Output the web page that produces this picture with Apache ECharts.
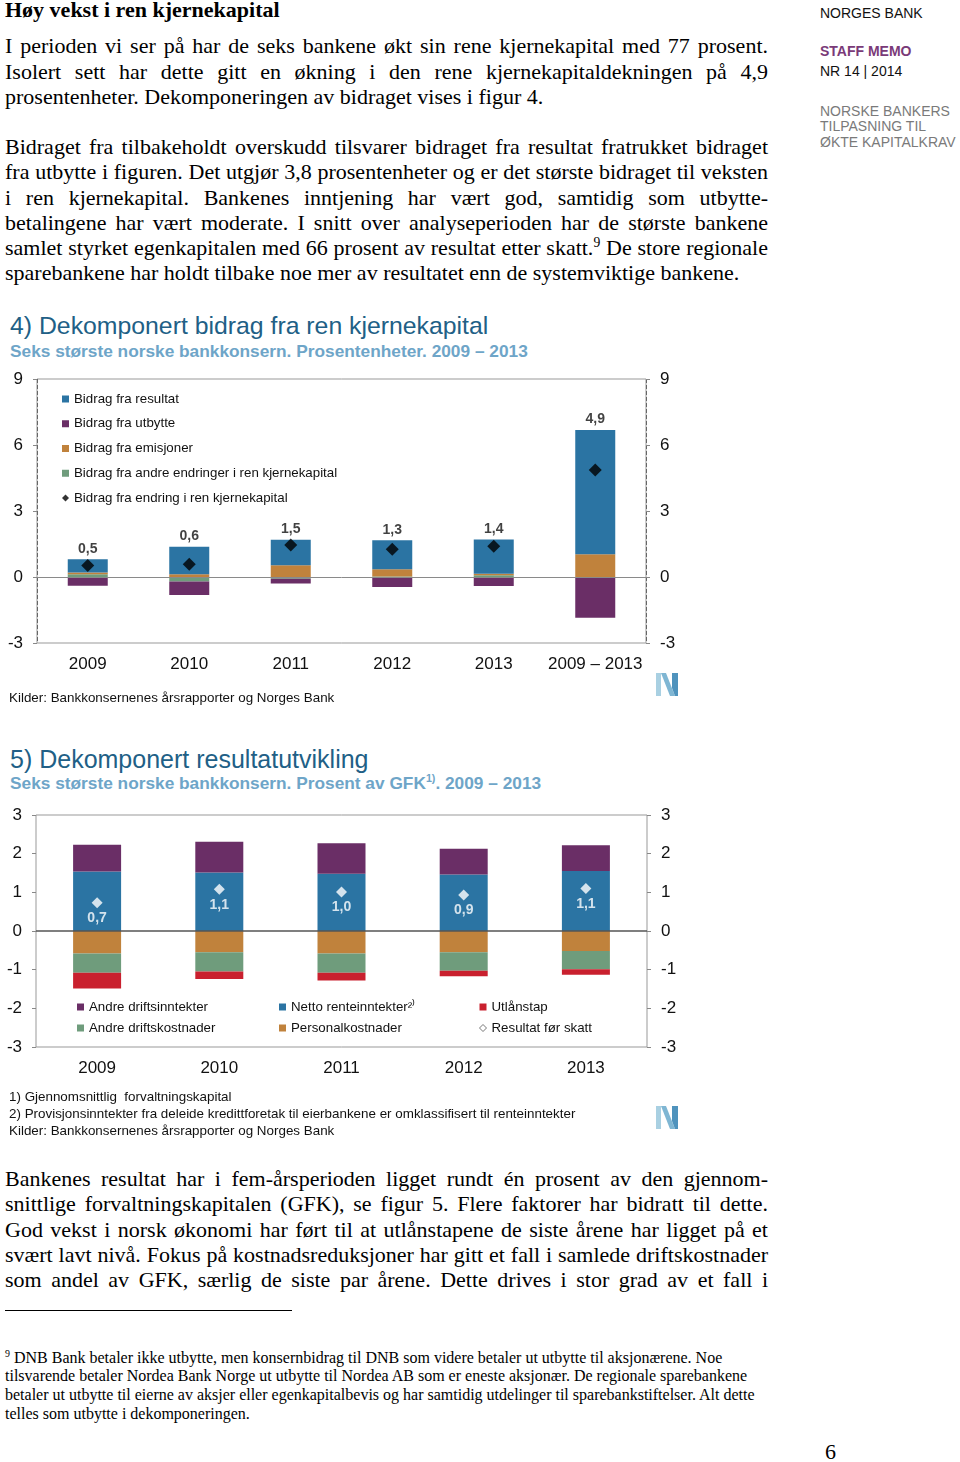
<!DOCTYPE html>
<html>
<head>
<meta charset="utf-8">
<script src="https://cdn.jsdelivr.net/npm/echarts@6/dist/echarts.min.js"></script>
<style>
html,body{margin:0;padding:0;background:#fff;}
#page{position:relative;width:960px;height:1462px;overflow:hidden;background:#fff;}
.serif{font-family:'Liberation Serif','Times New Roman',serif;color:#000;}
.para{position:absolute;left:5px;width:763px;font-size:22px;}
.para div{white-space:nowrap;text-align:justify;text-align-last:justify;}
.para div.last{text-align:left;text-align-last:left;}
.side{position:absolute;left:820px;font-family:'Liberation Sans',Arial,sans-serif;font-size:14px;line-height:15.5px;white-space:nowrap;}
.ttl{position:absolute;left:10px;font-family:'Liberation Sans',Arial,sans-serif;white-space:nowrap;}
.narrow{position:absolute;left:9px;font-family:'Liberation Sans',Arial,sans-serif;font-size:13.4px;color:#111;white-space:nowrap;}
sup{font-size:62%;line-height:0;}
.chart{position:absolute;left:0;width:960px;}
</style>
</head>
<body>
<div id="page">
  <div class="serif" style="position:absolute;left:5px;top:-3px;font-size:22px;font-weight:bold;line-height:25px;white-space:nowrap;">Høy vekst i ren kjernekapital</div>

  <div class="para serif" style="top:33.1px;line-height:25.5px;">
    <div>I perioden vi ser på har de seks bankene økt sin rene kjernekapital med 77 prosent.</div>
    <div>Isolert sett har dette gitt en økning i den rene kjernekapitaldekningen på 4,9</div>
    <div class="last">prosentenheter. Dekomponeringen av bidraget vises i figur 4.</div>
  </div>

  <div class="para serif" style="top:134.1px;line-height:25.2px;">
    <div>Bidraget fra tilbakeholdt overskudd tilsvarer bidraget fra resultat fratrukket bidraget</div>
    <div>fra utbytte i figuren. Det utgjør 3,8 prosentenheter og er det største bidraget til veksten</div>
    <div>i ren kjernekapital. Bankenes inntjening har vært god, samtidig som utbytte-</div>
    <div>betalingene har vært moderate. I snitt over analyseperioden har de største bankene</div>
    <div>samlet styrket egenkapitalen med 66 prosent av resultat etter skatt.<sup>9</sup> De store regionale</div>
    <div class="last">sparebankene har holdt tilbake noe mer av resultatet enn de systemviktige bankene.</div>
  </div>

  <div class="side" style="top:6px;color:#111;">NORGES BANK</div>
  <div class="side" style="top:44px;color:#7a3a78;font-weight:bold;">STAFF MEMO</div>
  <div class="side" style="top:64px;color:#111;">NR 14 | 2014</div>
  <div class="side" style="top:103.5px;color:#7a7a7a;">NORSKE BANKERS<br>TILPASNING TIL<br>ØKTE KAPITALKRAV</div>

  <div class="ttl" style="top:311px;font-size:24.8px;line-height:30px;color:#215f86;">4) Dekomponert bidrag fra ren kjernekapital</div>
  <div class="ttl" style="top:340px;font-size:17.3px;line-height:22px;color:#6ea5c8;font-weight:bold;">Seks største norske bankkonsern. Prosentenheter. 2009 – 2013</div>

  <div id="chart4" class="chart" style="top:300px;height:410px;"></div>

  <div class="narrow" style="top:688.5px;line-height:17px;">Kilder: Bankkonsernenes årsrapporter og Norges Bank</div>
  <svg style="position:absolute;left:656px;top:673px;" width="24" height="23" viewBox="0 0 24 23">
    <polygon points="0,0 5,0 5,23 0,23" fill="#a9d0e2"/>
    <polygon points="5,0 10,0 19,23 14,23" fill="#7fb6d3"/>
    <polygon points="16,0 22,0 22,23 19,23 16,15" fill="#4f93bd"/>
  </svg>

  <div class="ttl" style="top:744px;font-size:25px;line-height:30px;color:#215f86;">5) Dekomponert resultatutvikling</div>
  <div class="ttl" style="top:772px;font-size:17.3px;line-height:22px;color:#6ea5c8;font-weight:bold;">Seks største norske bankkonsern. Prosent av GFK<sup>1)</sup>. 2009 – 2013</div>

  <div id="chart5" class="chart" style="top:735px;height:410px;"></div>

  <div class="narrow" style="top:1087.5px;line-height:17px;">1) Gjennomsnittlig&nbsp; forvaltningskapital<br>2) Provisjonsinntekter fra deleide kredittforetak til eierbankene er omklassifisert til renteinntekter<br>Kilder: Bankkonsernenes årsrapporter og Norges Bank</div>
  <svg style="position:absolute;left:656px;top:1106px;" width="24" height="23" viewBox="0 0 24 23">
    <polygon points="0,0 5,0 5,23 0,23" fill="#a9d0e2"/>
    <polygon points="5,0 10,0 19,23 14,23" fill="#7fb6d3"/>
    <polygon points="16,0 22,0 22,23 19,23 16,15" fill="#4f93bd"/>
  </svg>

  <div class="para serif" style="top:1166.1px;line-height:25.25px;">
    <div>Bankenes resultat har i fem-årsperioden ligget rundt én prosent av den gjennom-</div>
    <div>snittlige forvaltningskapitalen (GFK), se figur 5. Flere faktorer har bidratt til dette.</div>
    <div>God vekst i norsk økonomi har ført til at utlånstapene de siste årene har ligget på et</div>
    <div>svært lavt nivå. Fokus på kostnadsreduksjoner har gitt et fall i samlede driftskostnader</div>
    <div>som andel av GFK, særlig de siste par årene. Dette drives i stor grad av et fall i</div>
  </div>

  <div style="position:absolute;left:5px;top:1310px;width:287px;height:1px;background:#000;"></div>

  <div class="serif" style="position:absolute;left:5px;top:1348.5px;font-size:16px;line-height:18.7px;white-space:nowrap;">
    <sup>9</sup> DNB Bank betaler ikke utbytte, men konsernbidrag til DNB som videre betaler ut utbytte til aksjonærene. Noe<br>
    tilsvarende betaler Nordea Bank Norge ut utbytte til Nordea AB som er eneste aksjonær. De regionale sparebankene<br>
    betaler ut utbytte til eierne av aksjer eller egenkapitalbevis og har samtidig utdelinger til sparebankstiftelser. Alt dette<br>
    telles som utbytte i dekomponeringen.
  </div>

  <div class="serif" style="position:absolute;left:825px;top:1439px;font-size:22px;line-height:25px;">6</div>
</div>

<script>
// ---------- Figure 4 data ----------
const cat4 = ['2009', '2010', '2011', '2012', '2013', '2009 – 2013'];
const resultat4  = [0.61, 1.26, 1.16, 1.32, 1.55, 5.65];
const utbytte4   = [-0.40, -0.62, -0.22, -0.45, -0.41, -1.85];
const emisjoner4 = [0.08, 0.12, 0.53, 0.33, 0.07, 1.03];
const andre4     = [0.12, -0.20, -0.08, 0.02, 0.08, 0.00];
const endring4   = [0.52, 0.58, 1.46, 1.26, 1.40, 4.86];

// ---------- Figure 5 data ----------
const cat5 = ['2009', '2010', '2011', '2012', '2013'];
const driftsinntekter5 = [0.69, 0.80, 0.79, 0.67, 0.67];
const renteinntekter5  = [1.54, 1.51, 1.48, 1.46, 1.55];
const utlanstap5       = [-0.41, -0.19, -0.20, -0.14, -0.14];
const driftskostnader5 = [-0.50, -0.50, -0.50, -0.48, -0.47];
const personal5        = [-0.58, -0.55, -0.58, -0.55, -0.52];
const resultat5        = [0.73, 1.08, 1.01, 0.93, 1.10];

const fmt = v => v.toFixed(1).replace('.', ',');
const SANS = "'Liberation Sans', Arial, sans-serif";

const C = {
  blue: '#2b74a3', purple: '#6a2e66', orange: '#c0823c', green: '#6f9c7c', red: '#c9202e'
};

function valueAxes(min, max, interval, margin) {
  const base = {
    type: 'value', min: min, max: max, interval: interval,
    splitLine: { show: false },
    axisLine: { show: false },
    axisTick: { show: true, length: 4, lineStyle: { color: '#888' } },
    axisLabel: { fontSize: 17, color: '#111', fontFamily: SANS, margin: margin }
  };
  return [Object.assign({ position: 'left' }, base), Object.assign({ position: 'right' }, base)];
}

// ---------- Chart 4 ----------
const posTop4 = cat4.map((_, i) =>
  [resultat4[i], utbytte4[i], emisjoner4[i], andre4[i]].filter(v => v > 0).reduce((a, b) => a + b, 0));

const chart4 = echarts.init(document.getElementById('chart4'), null, { renderer: 'canvas' });
const bar4 = (name, data, color) => ({
  name, type: 'bar', stack: 'k', data, barWidth: 40,
  itemStyle: { color }, emphasis: { disabled: true }
});
chart4.setOption({
  animation: false,
  grid: { left: 37, width: 609, top: 79, height: 264, show: true, borderColor: '#999', borderWidth: 1 },
  legend: {
    orient: 'vertical', left: 62, top: 92, padding: 0, itemWidth: 7, itemHeight: 7, itemGap: 10.75,
    selectedMode: false,
    textStyle: { fontSize: 13.3, lineHeight: 14, color: '#111', fontFamily: SANS },
    data: [
      { name: 'Bidrag fra resultat', icon: 'rect' },
      { name: 'Bidrag fra utbytte', icon: 'rect' },
      { name: 'Bidrag fra emisjoner', icon: 'rect' },
      { name: 'Bidrag fra andre endringer i ren kjernekapital', icon: 'rect' },
      { name: 'Bidrag fra endring i ren kjernekapital', icon: 'diamond' }
    ]
  },
  xAxis: {
    type: 'category', data: cat4,
    axisLine: { show: false }, axisTick: { show: false },
    axisLabel: { interval: 0, fontSize: 17, color: '#111', fontFamily: SANS, margin: 13 },
    splitLine: { show: true, interval: (i) => i === 5, lineStyle: { type: 'dashed', color: '#666', width: 1 } }
  },
  yAxis: valueAxes(-3, 9, 3, 14),
  series: [
    Object.assign(bar4('Bidrag fra andre endringer i ren kjernekapital', andre4, C.green), {
      markLine: { silent: true, symbol: 'none', label: { show: false },
        lineStyle: { color: '#8a8a8a', type: 'solid', width: 1 }, data: [{ yAxis: 0 }] }
    }),
    bar4('Bidrag fra emisjoner', emisjoner4, C.orange),
    bar4('Bidrag fra resultat', resultat4, C.blue),
    bar4('Bidrag fra utbytte', utbytte4, C.purple),
    {
      name: 'Bidrag fra endring i ren kjernekapital', type: 'scatter', symbol: 'diamond',
      symbolSize: 13, data: endring4, itemStyle: { color: '#000' }, z: 5, emphasis: { disabled: true }
    },
    {
      name: 'label4', type: 'scatter', symbolSize: 1, data: posTop4, silent: true,
      itemStyle: { color: 'transparent' }, z: 6,
      label: {
        show: true, position: 'top', distance: 3,
        formatter: p => fmt(endring4[p.dataIndex]),
        fontSize: 14, fontWeight: 'bold', color: '#111', fontFamily: SANS
      }
    }
  ]
});

// ---------- Chart 5 ----------
const chart5 = echarts.init(document.getElementById('chart5'), null, { renderer: 'canvas' });
const bar5 = (name, data, color) => ({
  name, type: 'bar', stack: 'r', data, barWidth: 48,
  itemStyle: { color }, emphasis: { disabled: true }
});
const legend5 = (left, data) => ({
  orient: 'vertical', left, top: 265, padding: 0, itemWidth: 7, itemHeight: 7, itemGap: 7,
  selectedMode: false,
  textStyle: { fontSize: 13.3, lineHeight: 14, color: '#111', fontFamily: SANS },
  data
});
chart5.setOption({
  animation: false,
  grid: { left: 36, width: 611, top: 80, height: 232, show: true, borderColor: '#999', borderWidth: 1 },
  legend: [
    legend5(77, [{ name: 'Andre driftsinntekter', icon: 'rect' }, { name: 'Andre driftskostnader', icon: 'rect' }]),
    legend5(279, [{ name: 'Netto renteinntekter²⁾', icon: 'rect' }, { name: 'Personalkostnader', icon: 'rect' }]),
    legend5(479, [{ name: 'Utlånstap', icon: 'rect' },
      { name: 'Resultat før skatt', icon: 'diamond', itemStyle: { color: '#fff', borderColor: '#555', borderWidth: 1 } }])
  ],
  xAxis: {
    type: 'category', data: cat5,
    axisLine: { show: false }, axisTick: { show: false },
    axisLabel: { interval: 0, fontSize: 17, color: '#111', fontFamily: SANS, margin: 13 },
    splitLine: { show: false }
  },
  yAxis: valueAxes(-3, 3, 1, 14),
  series: [
    Object.assign(bar5('Netto renteinntekter²⁾', renteinntekter5, C.blue), {
      markLine: { silent: true, symbol: 'none', label: { show: false }, z: 10,
        lineStyle: { color: '#555', type: 'solid', width: 1.5 }, data: [{ yAxis: 0 }] }
    }),
    bar5('Andre driftsinntekter', driftsinntekter5, C.purple),
    bar5('Personalkostnader', personal5, C.orange),
    bar5('Andre driftskostnader', driftskostnader5, C.green),
    bar5('Utlånstap', utlanstap5, C.red),
    {
      name: 'Resultat før skatt', type: 'scatter', symbol: 'diamond', symbolSize: 11,
      data: resultat5, itemStyle: { color: '#fff' }, z: 5, emphasis: { disabled: true },
      label: {
        show: true, position: 'bottom', distance: 3,
        formatter: p => fmt(p.value),
        fontSize: 14, fontWeight: 'bold', color: '#fff', fontFamily: SANS
      }
    }
  ]
});
</script>
</body>
</html>
